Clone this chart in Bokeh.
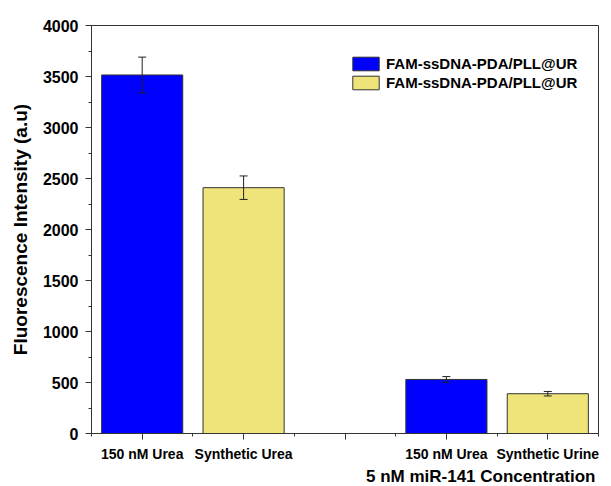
from bokeh.plotting import figure
from bokeh.models import (ColumnDataSource, FixedTicker, Whisker, TeeHead, Legend,
                          LegendItem, Range1d, Title)
from bokeh.embed import file_html
from bokeh.resources import INLINE

# ---- data ----
categories = ["150 nM Urea", "Synthetic Urea", "", "150 nM Urea", "Synthetic Urine"]
blue_idx = [0, 3]
blue_values = [3515, 530]
blue_errors = [175, 28]
yellow_idx = [1, 4]
yellow_values = [2410, 390]
yellow_errors = [115, 22]
legend_labels = ["FAM-ssDNA-PDA/PLL@UR", "FAM-ssDNA-PDA/PLL@UR"]
y_ticks = list(range(0, 4001, 500))
y_label = "Fluorescence Intensity (a.u)"
x_label = "5 nM miR-141 Concentration"

FONT = "Liberation Sans"
BLUE = "#0000FF"
YELLOW = "#EEE47A"
AXC = "#333333"

def src(idx, vals, errs):
    return ColumnDataSource(dict(
        x=[i + 1 for i in idx], top=vals,
        upper=[v + e for v, e in zip(vals, errs)],
        lower=[v - e for v, e in zip(vals, errs)]))

bsrc = src(blue_idx, blue_values, blue_errors)
ysrc = src(yellow_idx, yellow_values, yellow_errors)

p = figure(frame_width=507, frame_height=408, output_backend="svg", toolbar_location=None,
           x_range=Range1d(0.5, len(categories) + 0.5), y_range=Range1d(0, 4000),
           min_border_left=91, min_border_top=25, min_border_right=8, min_border_bottom=10)
p.background_fill_color = "white"
p.border_fill_color = "white"
p.outline_line_color = AXC
p.outline_line_width = 1
p.xgrid.visible = False
p.ygrid.visible = False

rb = p.vbar(x="x", top="top", width=0.8, bottom=0, source=bsrc,
            fill_color=BLUE, line_color=AXC, line_width=1)
ry = p.vbar(x="x", top="top", width=0.8, bottom=0, source=ysrc,
            fill_color=YELLOW, line_color=AXC, line_width=1)

for s in (bsrc, ysrc):
    w = Whisker(base="x", upper="upper", lower="lower", source=s, level="overlay",
                line_color="#222222", line_width=1,
                upper_head=TeeHead(size=8, line_color="#222222", line_width=1),
                lower_head=TeeHead(size=8, line_color="#222222", line_width=1))
    p.add_layout(w)

# x axis
p.xaxis.ticker = FixedTicker(ticks=[i + 1 for i in range(len(categories))],
                             minor_ticks=[i + 0.5 for i in range(len(categories) + 1)])
p.xaxis.major_label_overrides = {i + 1: c for i, c in enumerate(categories)}
p.xaxis.major_label_text_font = FONT
p.xaxis.major_label_text_font_style = "bold"
p.xaxis.major_label_text_font_size = "14px"
p.xaxis.major_label_text_color = "black"
p.xaxis.major_label_standoff = 6

# y axis
p.yaxis.ticker = FixedTicker(ticks=y_ticks, minor_ticks=[t + 250 for t in y_ticks[:-1]])
p.yaxis.major_label_text_font = FONT
p.yaxis.major_label_text_font_style = "bold"
p.yaxis.major_label_text_font_size = "16px"
p.yaxis.major_label_text_color = "black"
p.yaxis.axis_label = y_label
p.yaxis.axis_label_text_font = FONT
p.yaxis.axis_label_text_font_style = "bold"
p.yaxis.axis_label_text_font_size = "19px"
p.yaxis.axis_label_text_color = "black"
p.yaxis.axis_label_standoff = 9
p.yaxis.major_label_standoff = 7

for ax in (p.xaxis, p.yaxis):
    ax.axis_line_color = AXC
    ax.major_tick_line_color = AXC
    ax.minor_tick_line_color = AXC
    ax.major_tick_out = 6
    ax.major_tick_in = 0
    ax.minor_tick_out = 3
    ax.minor_tick_in = 0

t = Title(text=x_label, align="right", text_font=FONT, text_font_style="bold",
          text_font_size="17px", text_color="black", standoff=0, offset=3)
p.add_layout(t, "below")

legend = Legend(items=[LegendItem(label=legend_labels[0], renderers=[rb]),
                       LegendItem(label=legend_labels[1], renderers=[ry])],
                location=(258, 342), padding=0, spacing=2, margin=0,
                glyph_width=33, glyph_height=17, label_height=17, label_standoff=4,
                label_text_font=FONT, label_text_font_style="bold",
                label_text_font_size="15px", label_text_color="black",
                border_line_color=None, background_fill_alpha=0)
p.add_layout(legend)

open("out.html", "w").write(file_html(p, INLINE))
